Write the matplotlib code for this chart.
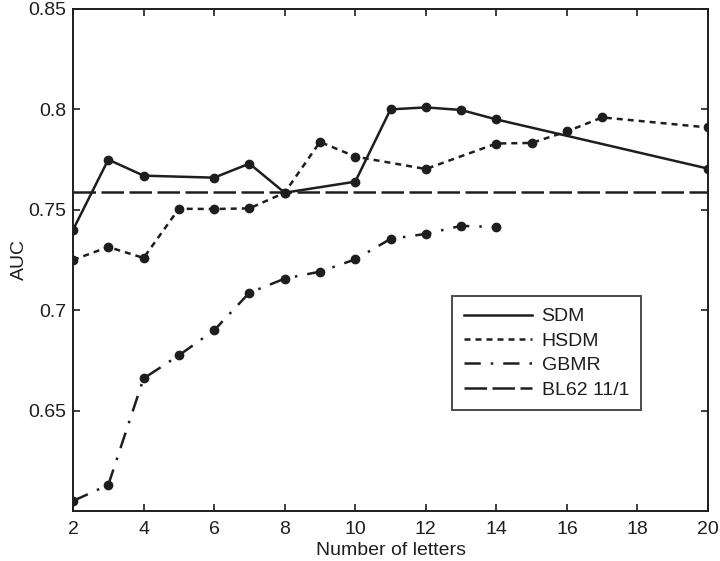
import numpy as np
import matplotlib.pyplot as plt
from matplotlib.lines import Line2D

# ============================================================
# DATA
# ============================================================

sdm_x = [2, 3, 4, 6, 7, 8, 10, 11, 12, 13, 14, 20]
sdm_y = [0.740, 0.775, 0.767, 0.766, 0.773, 0.7585, 0.764, 0.800, 0.801, 0.7997, 0.795, 0.7705]

hsdm_x = [2, 3, 4, 5, 6, 7, 8, 9, 10, 12, 14, 15, 16, 17, 20]
hsdm_y = [0.725, 0.7315, 0.726, 0.7505, 0.7504, 0.7507, 0.7585, 0.7838, 0.7765,
          0.7703, 0.783, 0.7833, 0.789, 0.796, 0.791]

gbmr_x = [2, 3, 4, 5, 6, 7, 8, 9, 10, 11, 12, 13, 14]
gbmr_y = [0.605, 0.613, 0.666, 0.6775, 0.690, 0.7087, 0.7157, 0.7192, 0.7253,
          0.7355, 0.738, 0.742, 0.7414]

bl62_y = 0.759

series_labels = ["SDM", "HSDM", "GBMR", "BL62 11/1"]
x_ticks = [2, 4, 6, 8, 10, 12, 14, 16, 18, 20]
y_ticks = [0.65, 0.7, 0.75, 0.8, 0.85]
y_tick_labels = ["0.65", "0.7", "0.75", "0.8", "0.85"]

# ============================================================
# STYLES
# ============================================================

plt.rcParams["font.family"] = ["Liberation Sans", "DejaVu Sans"]
ink = "#1e1e1e"
lw = 1.8
styles = [
    "-",
    (0, (2.4, 2.0)),
    (0, (6.5, 4.0, 1.0, 4.0)),
    (0, (9.0, 2.2)),
]

# ============================================================
# PLOTTING
# ============================================================

fig = plt.figure(figsize=(7.2, 5.61), dpi=100)
ax = fig.add_axes([0.1014, 0.0891, 0.882, 0.8949])

ax.plot(sdm_x, sdm_y, color=ink, lw=lw, linestyle=styles[0], marker="o", ms=6)
ax.plot(hsdm_x, hsdm_y, color=ink, lw=lw, linestyle=styles[1], marker="o", ms=6)
ax.plot(gbmr_x, gbmr_y, color=ink, lw=lw, linestyle=styles[2], marker="o", ms=6)
ax.axhline(bl62_y, color=ink, lw=lw, linestyle=styles[3])

ax.set_xlim(2, 20)
ax.set_ylim(0.6, 0.85)
ax.set_xticks(x_ticks)
ax.set_yticks(y_ticks)
ax.set_yticklabels(y_tick_labels)
ax.tick_params(direction="in", top=True, right=True, length=5, width=1.2,
               labelsize=14, colors=ink)
ax.tick_params(axis="x", pad=7)
ax.tick_params(axis="y", pad=5)
for s in ax.spines.values():
    s.set_linewidth(1.4)
    s.set_color(ink)

ax.set_xlabel("Number of letters", fontsize=14, color=ink, labelpad=3)
ax.set_ylabel("AUC", fontsize=14, color=ink, labelpad=0)

handles = [Line2D([], [], color=ink, lw=lw, linestyle=st) for st in styles]
leg = ax.legend(handles, series_labels, loc="upper left",
                bbox_to_anchor=(0.597, 0.4282),
                fontsize=14, frameon=True, fancybox=False, handlelength=3.5,
                borderpad=0.6, labelspacing=0.35, handletextpad=0.5,
                borderaxespad=0)
leg.get_frame().set_edgecolor(ink)
leg.get_frame().set_linewidth(1.4)
for t in leg.get_texts():
    t.set_color(ink)

fig.savefig("out.png", dpi=100)
